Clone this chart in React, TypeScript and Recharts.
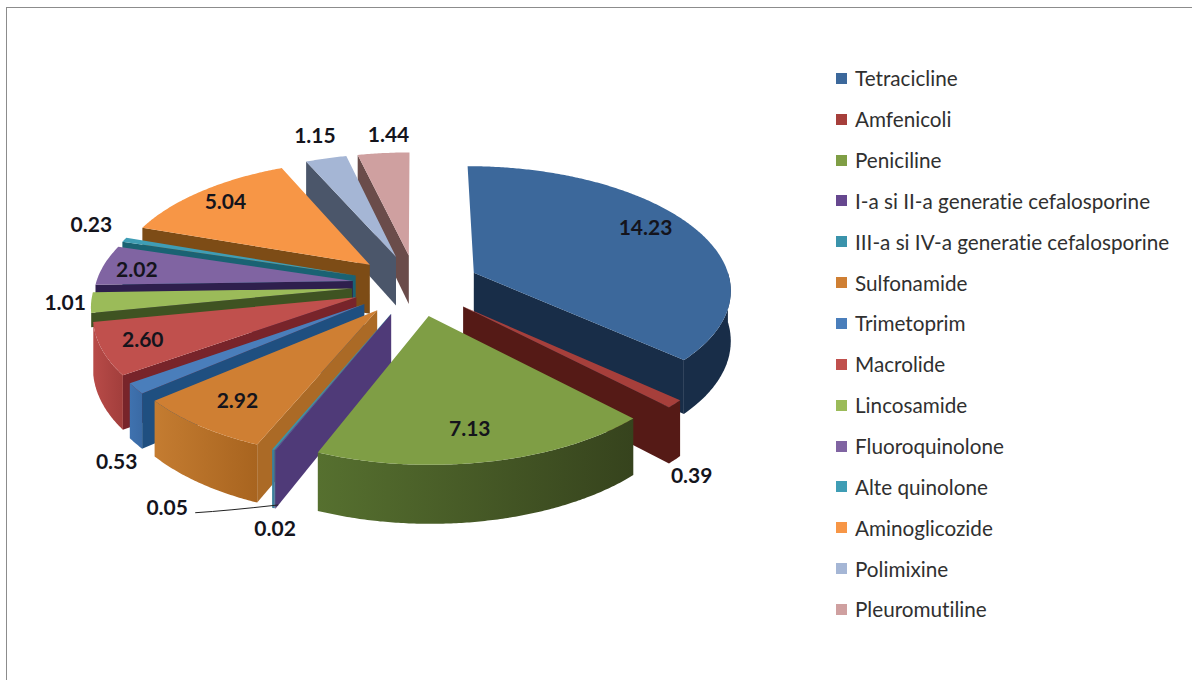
import { Legend, Pie, PieChart } from "recharts";

const names = [
  "Tetracicline",
  "Amfenicoli",
  "Peniciline",
  "I-a si II-a generatie cefalosporine",
  "III-a si IV-a generatie cefalosporine",
  "Sulfonamide",
  "Trimetoprim",
  "Macrolide",
  "Lincosamide",
  "Fluoroquinolone",
  "Alte quinolone",
  "Aminoglicozide",
  "Polimixine",
  "Pleuromutiline"
];
const values = [14.23, 0.39, 7.13, 0.02, 0.05, 2.92, 0.53, 2.6, 1.01, 2.02, 0.23, 5.04, 1.15, 1.44];

// top face, radial wall, rim wall (left and right of the gradient)
const faceColors = ["#3c689b", "#a63f3b", "#7f9e45", "#66478f", "#3a93ab", "#cf7f33", "#4a7ebb", "#c0504d", "#9bbb59", "#8064a2", "#3f9db5", "#f79646", "#a5b6d5", "#cfa0a0"];
const wallColors = ["#182d48", "#551a16", "#4a5f2a", "#4f3a78", "#3a7f9a", "#ab6a26", "#1f4f80", "#78242a", "#3f5322", "#2e1f4d", "#1a6273", "#7d4c16", "#4b566a", "#6a4c4a"];
const rimLeft = ["#182d48", "#551a16", "#56702f", "#4f3a78", "#3a7f9a", "#c47c31", "#3f72af", "#b84b48", "#7f9e45", "#5c4580", "#1a6273", "#a86a20", "#4b566a", "#6a4c4a"];
const rimRight = ["#182d48", "#551a16", "#36431d", "#4f3a78", "#3a7f9a", "#a8641f", "#3a6aa5", "#a23e3c", "#7f9e45", "#5c4580", "#1a6273", "#a86a20", "#4b566a", "#6a4c4a"];

// far slices are painted first so that near ones cover them
const paintOrder = [13, 12, 11, 10, 0, 9, 8, 7, 6, 1, 5, 4, 3, 2];

// where each value label sits, relative to the middle of its slice's rim
const labelDx = [-47, 17, -19, 0, -106, 38, -19, 41, -26, 33, -33, 24, -11, 5];
const labelDy = [1, 72, -33, 78, 58, -25, 73, -10, 0, 4, -15, 10, -23, -19];

const data = names.map((name, i) => ({ name, value: values[i] }));

const EXPLODE = 61;
const DEPTH = 50;
const TILT = 0.5;
const WIDEN = 1.05;
const PERSPECTIVE = 0.0005;

type Pt = { x: number; y: number; p: number };

const rad = (d: number) => (d * Math.PI) / 180;

// ground plane point to screen, theta is clockwise from the top
function project(cx: number, cy: number, gx: number, gy: number): Pt {
  const p = 1 / (1 + PERSPECTIVE * gy);
  return { x: cx + WIDEN * gx * p, y: cy - TILT * gy * p, p };
}

function slicePoint(cx: number, cy: number, mid: number, r: number, theta: number) {
  const gx = EXPLODE * Math.sin(rad(mid)) + r * Math.sin(rad(theta));
  const gy = EXPLODE * Math.cos(rad(mid)) + r * Math.cos(rad(theta));
  return project(cx, cy, gx, gy);
}

const toPath = (pts: { x: number; y: number }[]) =>
  pts.map((q, i) => `${i ? "L" : "M"}${q.x.toFixed(1)} ${q.y.toFixed(1)}`).join(" ") + " Z";

const drop = (q: Pt, depth = DEPTH) => ({ x: q.x, y: q.y + depth * q.p });

function arc(cx: number, cy: number, mid: number, r: number, from: number, to: number) {
  const steps = Math.max(1, Math.ceil((to - from) * 2));
  const out: Pt[] = [];
  for (let s = 0; s <= steps; s++) {
    out.push(slicePoint(cx, cy, mid, r, from + ((to - from) * s) / steps));
  }
  return out;
}

function Slice3D(props: any) {
  const { cx, cy, outerRadius, startAngle, endAngle, i } = props;
  const t1 = 90 - startAngle;
  const t2 = 90 - endAngle;
  const mid = (t1 + t2) / 2;
  const apex = slicePoint(cx, cy, mid, 0, 0);
  const top = arc(cx, cy, mid, outerRadius, t1, t2);
  const parts = [];

  if (Math.sin(rad(t1)) < -0.001) {
    const a = slicePoint(cx, cy, mid, outerRadius, t1);
    // the Lincosamide wall is mostly behind Macrolide, only its upper band shows
    const depth = names[i] === "Lincosamide" ? 14 : DEPTH;
    parts.push(
      <path key="start" d={toPath([apex, a, drop(a, depth), drop(apex, depth)])} fill={wallColors[i]} />
    );
  }
  if (Math.sin(rad(t2)) > 0.001) {
    const b = slicePoint(cx, cy, mid, outerRadius, t2);
    parts.push(<path key="end" d={toPath([apex, b, drop(b), drop(apex)])} fill={wallColors[i]} />);
  }
  const rimFrom = Math.max(t1, 90);
  // past this angle the rim is hidden behind the next slice down
  const rimTo = Math.min(t2, 258.5);
  if (rimTo > rimFrom) {
    const rim = arc(cx, cy, mid, outerRadius, rimFrom, rimTo);
    parts.push(
      <path
        key="rim"
        d={toPath([...rim, ...rim.slice().reverse().map((q) => drop(q))])}
        fill={`url(#rim${i})`}
      />
    );
  }
  return (
    <g>
      <defs>
        <linearGradient id={`rim${i}`} x1="0" y1="0" x2="1" y2="0">
          <stop offset="0%" stopColor={rimLeft[i]} />
          <stop offset="100%" stopColor={rimRight[i]} />
        </linearGradient>
      </defs>
      {parts}
      <path d={toPath([apex, ...top])} fill={faceColors[i]} />
    </g>
  );
}

function ValueLabel(props: any) {
  const { cx, cy, outerRadius, midAngle, index } = props;
  const mid = 90 - midAngle;
  const rim = slicePoint(cx, cy, mid, outerRadius, mid);
  const x = rim.x + labelDx[index];
  const y = rim.y + labelDy[index];
  const bottom = drop(rim);
  return (
    <g>
      {names[index] === "III-a si IV-a generatie cefalosporine" && (
        <path
          d={`M${x + 28} ${y + 5} Q${x + 60} ${y + 3} ${bottom.x + 5} ${bottom.y - 3}`}
          fill="none"
          stroke="#222"
          strokeWidth={1}
        />
      )}
      <text
        x={x}
        y={y - 1}
        textAnchor="middle"
        dominantBaseline="central"
        fontFamily="Lato, sans-serif"
        fontWeight={700}
        fontSize={21}
        fill="#14141c"
      >
        {values[index].toFixed(2)}
      </text>
    </g>
  );
}

function LegendList() {
  return (
    <div>
      {names.map((name, i) => (
        <div key={name} style={{ height: 40.85, display: "flex", alignItems: "center" }}>
          <span style={{ width: 11, height: 11, background: faceColors[i], marginRight: 8, flex: "none" }} />
          <span
            style={{
              fontFamily: "Lato, sans-serif",
              fontSize: 20.7,
              fontVariantLigatures: "none",
              color: "#303030",
              whiteSpace: "nowrap"
            }}
          >
            {name}
          </span>
        </div>
      ))}
    </div>
  );
}

export default function App() {
  return (
    <div style={{ position: "absolute", left: 0, top: 0, width: 1192, height: 680, overflow: "hidden", background: "#fff" }}>
      <div style={{ position: "absolute", left: 6, top: 7, width: 1200, height: 700, border: "1px solid #8c8c8c" }} />
      <div style={{ position: "absolute", left: 0, top: 0 }}>
        <PieChart width={1192} height={680} margin={{ top: 0, right: 0, bottom: 0, left: 0 }}>
          {paintOrder.map((idx) => (
            <Pie
              key={names[idx]}
              data={data}
              dataKey="value"
              nameKey="name"
              cx={416}
              cy={285}
              outerRadius={245}
              startAngle={90}
              endAngle={-270}
              stroke="none"
              isAnimationActive={false}
              shape={(props: any) =>
                props.name === names[idx] || props.payload?.name === names[idx] ? <Slice3D {...props} i={idx} /> : <g />
              }
            />
          ))}
          <Pie
            data={data}
            dataKey="value"
            nameKey="name"
            cx={416}
            cy={285}
            outerRadius={245}
            startAngle={90}
            endAngle={-270}
            stroke="none"
            isAnimationActive={false}
            shape={() => <g />}
            label={ValueLabel}
            labelLine={false}
          />
          <Legend
            layout="vertical"
            content={LegendList}
            wrapperStyle={{ left: 836, top: 58, width: 350, bottom: "auto", right: "auto" }}
          />
        </PieChart>
      </div>
    </div>
  );
}
